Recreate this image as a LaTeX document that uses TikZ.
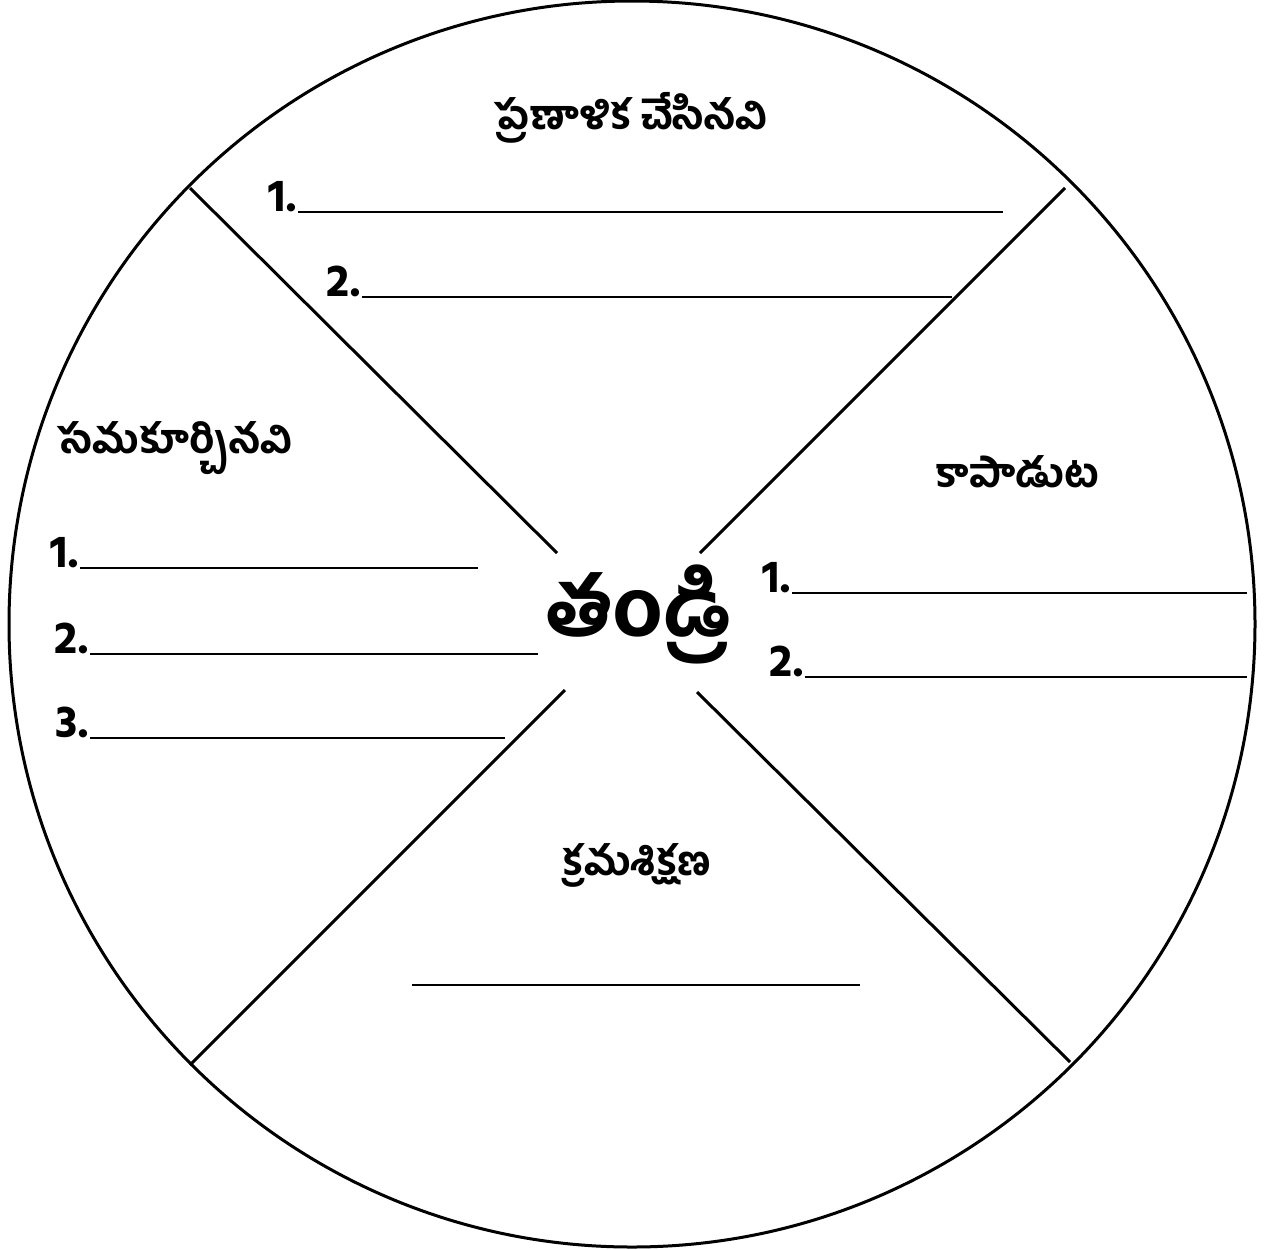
\documentclass[tikz,border=0pt]{standalone}
\usepackage{fontspec}
\newfontfamily\tel[Script=Telugu]{Hind Guntur Bold}
\begin{document}
\begin{tikzpicture}[x=0.5pt,y=-0.5pt,
  heading/.style={font=\tel\fontsize{20}{24}\selectfont, inner sep=0pt},
  numlbl/.style={font=\tel\fontsize{23}{26}\selectfont, inner sep=0pt, anchor=base east},
  blank/.style={line width=1pt},
  divider/.style={line width=1.5pt}]
\useasboundingbox (0,0) rectangle (1264,1249);
\node[draw, circle, line width=1.5pt, minimum size=623pt, inner sep=0pt] (wheel) at (632,624) {};
\node[font=\tel\fontsize{40}{46}\selectfont, inner sep=0pt] (father) at (639,614) {తండ్రి};
% dividers
\coordinate (nwA) at (190,188); \coordinate (nwB) at (557,553);
\coordinate (neA) at (1065,188); \coordinate (neB) at (700,553);
\coordinate (swA) at (565,690); \coordinate (swB) at (190,1065);
\coordinate (seA) at (697,692); \coordinate (seB) at (1070,1062);
\draw[divider] (nwA) -- (nwB);
\draw[divider] (neA) -- (neB);
\draw[divider] (swA) -- (swB);
\draw[divider] (seA) -- (seB);
% top
\node[heading] (top) at (631,118) {ప్రణాళిక చేసినవి};
\coordinate (t1s) at (298,212); \coordinate (t1e) at (1003,212);
\node[numlbl] (t1) at (298,211) {1.};
\draw[blank] (t1s) -- (t1e);
\coordinate (t2s) at (362,297); \coordinate (t2e) at (952,297);
\node[numlbl] (t2) at (362,296) {2.};
\draw[blank] (t2s) -- (t2e);
% left
\node[heading] (left) at (175,448) {సమకూర్చినవి};
\coordinate (l1s) at (80,568); \coordinate (l1e) at (478,568);
\node[numlbl] (l1) at (80,567) {1.};
\draw[blank] (l1s) -- (l1e);
\coordinate (l2s) at (90,654); \coordinate (l2e) at (538,654);
\node[numlbl] (l2) at (90,653) {2.};
\draw[blank] (l2s) -- (l2e);
\coordinate (l3s) at (90,738); \coordinate (l3e) at (505,738);
\node[numlbl] (l3) at (90,737) {3.};
\draw[blank] (l3s) -- (l3e);
% right
\node[heading] (right) at (1018,472) {కాపాడుట};
\coordinate (r1s) at (792,593); \coordinate (r1e) at (1247,593);
\node[numlbl] (r1) at (792,592) {1.};
\draw[blank] (r1s) -- (r1e);
\coordinate (r2s) at (805,677); \coordinate (r2e) at (1247,677);
\node[numlbl] (r2) at (805,676) {2.};
\draw[blank] (r2s) -- (r2e);
% bottom
\node[heading] (bottom) at (637,865) {క్రమశిక్షణ};
\coordinate (b1s) at (412,985); \coordinate (b1e) at (860,985);
\draw[blank] (b1s) -- (b1e);
\end{tikzpicture}
\end{document}
